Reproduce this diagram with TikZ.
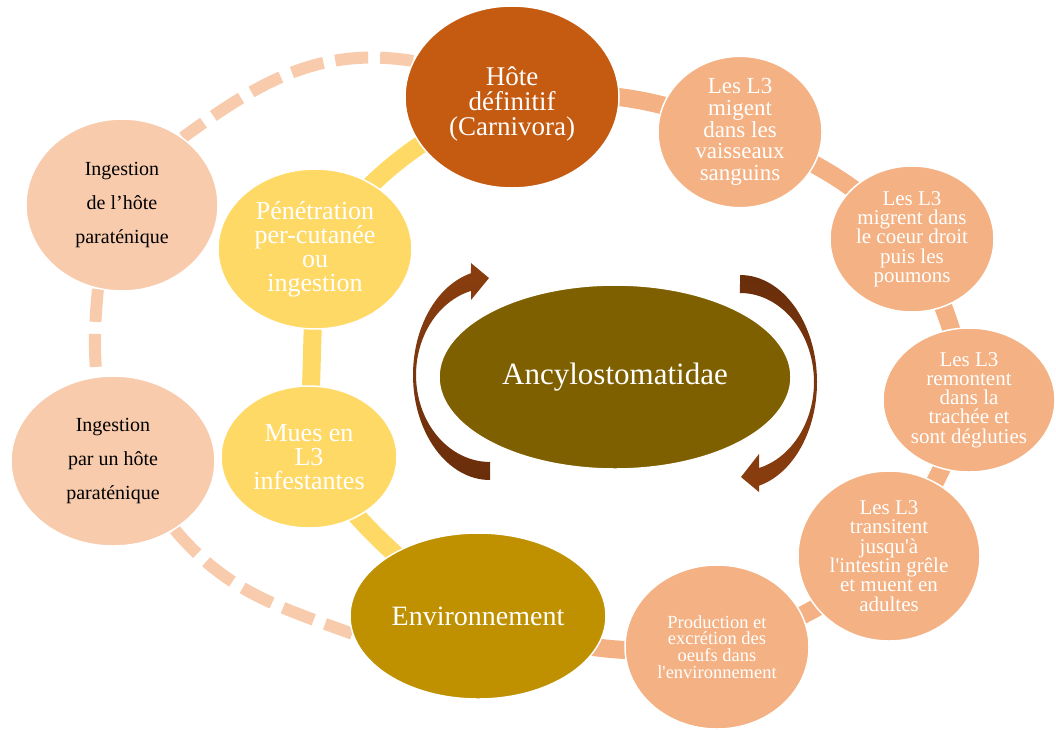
\documentclass[tikz,border=0pt]{standalone}
\usepackage{fontspec}
\setmainfont{Liberation Serif}[Ligatures=TeXOff]
\usetikzlibrary{shapes.geometric}
\pgfdeclarelayer{bg}
\pgfsetlayers{bg,main}
\definecolor{hoteC}{HTML}{C55A11}
\definecolor{lthree}{HTML}{F4B183}
\definecolor{ingC}{HTML}{F8CBAD}
\definecolor{yelC}{HTML}{FFD966}
\definecolor{envC}{HTML}{BF9000}
\definecolor{ancC}{HTML}{7F6000}
\definecolor{arrLight}{HTML}{8B3E0F}
\definecolor{arrDark}{HTML}{6A2E0B}
\tikzset{
  blob/.style={ellipse, draw=white, line width=1.5pt, inner sep=0pt, align=center, text=white},
  conn/.style={line width=18pt, draw=lthree},
  yconn/.style={line width=18pt, draw=yelC},
  dconn/.style={line width=12pt, draw=ingC, dash pattern=on 33pt off 12pt},
}
\begin{document}
\begin{tikzpicture}[x=1pt,y=1pt]
\useasboundingbox (0,0) rectangle (1056,-729);
% nodes
\node[blob, fill=hoteC, minimum width=214pt, minimum height=182pt, font=\fontsize{27}{25}\selectfont] (hote) at (512,-97) {\raisebox{0pt}[33pt]{Hôte}\\définitif\\(Carnivora)};
\node[blob, fill=lthree, minimum width=164pt, minimum height=144pt, font=\fontsize{23}{21.7}\selectfont] (mig) at (740,-132) {Les L3\\migent\\dans les\\vaisseaux\\sanguins};
\node[blob, fill=lthree, minimum width=164pt, minimum height=146pt, font=\fontsize{21}{19.3}\selectfont] (coeur) at (912,-239) {Les L3\\migrent dans\\le coeur droit\\puis les\\poumons};
\node[blob, fill=lthree, minimum width=172pt, minimum height=144pt, font=\fontsize{21}{19.3}\selectfont] (remont) at (969,-400) {Les L3\\remontent\\dans la\\trachée et\\sont dégluties};
\node[blob, fill=lthree, minimum width=182pt, minimum height=170pt, font=\fontsize{21}{19.3}\selectfont] (trans) at (889,-556) {Les L3\\transitent\\jusqu'à\\l'intestin grêle\\et muent en\\adultes};
\node[blob, fill=lthree, minimum width=184pt, minimum height=164pt, font=\fontsize{18.5}{16.7}\selectfont] (prod) at (717,-647) {Production et\\excrétion des\\oeufs dans\\l'environnement};
\node[blob, fill=envC, minimum width=256pt, minimum height=166pt, font=\fontsize{28}{24.5}\selectfont] (env) at (478,-616) {Environnement};
\node[blob, fill=yelC, minimum width=176pt, minimum height=142pt, font=\fontsize{26}{24}\selectfont] (mues) at (309,-457) {Mues en\\L3\\infestantes};
\node[blob, fill=yelC, minimum width=194pt, minimum height=160pt, font=\fontsize{26}{24}\selectfont] (pen) at (315,-249) {Pénétration\\per-cutanée\\ou\\ingestion};
\node[blob, fill=ingC, text=black, minimum width=192pt, minimum height=172pt, font=\fontsize{20}{34}\selectfont] (ing1) at (122,-205) {Ingestion\\de l’hôte\\paraténique};
\node[blob, fill=ingC, text=black, minimum width=204pt, minimum height=170pt, font=\fontsize{20}{34}\selectfont] (ing2) at (113,-461) {Ingestion\\par un hôte\\paraténique};
\node[blob, fill=ancC, minimum width=352pt, minimum height=184pt, font=\fontsize{31}{34}\selectfont] (anc) at (615,-377) {Ancylostomatidae};
% connectors
\begin{pgfonlayer}{bg}
\draw[conn] (hote.center) to[bend left=14] (mig.center);
\draw[conn] (mig.center) to[bend left=12] (coeur.center);
\draw[conn] (coeur.center) to[bend left=8] (remont.center);
\draw[conn] (remont.center) to[bend left=8] (trans.center);
\draw[conn] (trans.center) to[bend left=12] (prod.center);
\draw[conn] (prod.center) to[bend left=13] (env.center);
\draw[yconn] (hote.center) to[bend right=15] (pen.center);
\draw[yconn] (pen.center) -- (mues.center);
\draw[yconn] (mues.center) to[bend right=10] (env.center);
\draw[dconn] (hote.160) to[out=171,in=36] (ing1.48);
\draw[dconn] (ing1.254) to[out=265,in=95] (ing2.101);
\draw[dconn] (ing2.-48) to[out=-50,in=160] (env.188);
\end{pgfonlayer}
% circular arrows
\shade[top color=arrLight, bottom color=arrDark] (490,-480)
  arc[start angle=270, end angle=104.3, x radius=77, y radius=105]
  -- (471,-263) -- (489,-278) -- (471,-300) -- (471,-290.9)
  arc[start angle=104.9, end angle=270, x radius=74, y radius=87] -- cycle;
\shade[top color=arrDark, bottom color=arrLight] (740,-275)
  arc[start angle=90, end angle=-75.7, x radius=77, y radius=107]
  -- (759,-492) -- (741,-477) -- (759,-454) -- (759,-468)
  arc[start angle=-75.1, end angle=90, x radius=74, y radius=89] -- cycle;
\end{tikzpicture}
\end{document}
